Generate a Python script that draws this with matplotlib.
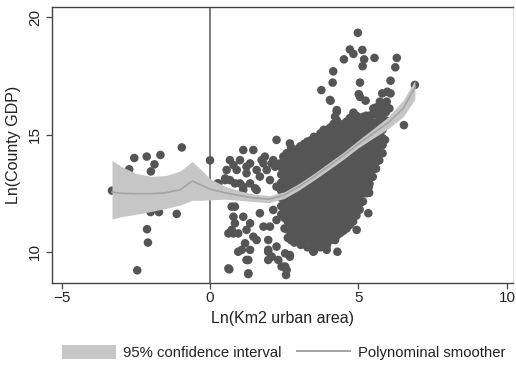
import matplotlib
matplotlib.use("Agg")
import matplotlib.pyplot as plt
from matplotlib.patches import Patch
from matplotlib.lines import Line2D

plt.rcParams['font.family'] = ['Liberation Sans', 'DejaVu Sans']

# ---------------- data ----------------
# counties with small / negative log urban area
left_x = [-0.95, -2.55, -2.13, -1.67, -1.87, -1.99, -2.72, -2.69, 0.0, -3.30, 0.26,
          -2.0, -1.72, -1.12, -2.12, -2.09, -2.45]
left_y = [14.45, 14.0, 14.06, 14.13, 13.73, 13.43, 13.52, 13.2, 13.9, 12.61, 12.92,
          11.7, 11.7, 11.62, 10.97, 10.40, 9.22]

# left part of the main cloud (x about 0.5 - 2.9)
mid_x = [1.12, 0.67, 1.01, 1.35, 0.90, 1.23, 1.57, 1.80, 1.68, 2.13, 2.36, 2.24, 2.69,
         2.58, 2.92, 2.02, 1.35, 1.01, 0.67, 1.46, 1.85, 0.51, 0.56, 1.12, 1.57, 2.24,
         1.74, 2.08, 2.19, 1.91, 2.47, 2.58, 3.03, 0.79, 1.23, 0.84, 1.12, 1.52,
         0.84, 0.79, 0.73, 0.95, 1.12, 1.23, 1.35, 1.46, 1.18, 1.07, 1.35, 1.57,
         2.02, 1.96, 1.96, 2.08, 2.24, 2.30, 2.41, 2.58, 2.53, 2.69, 0.62, 1.23,
         1.29, 2.69, 2.81, 2.58, 1.68, 2.13, 2.24, 1.80]
mid_y = [14.34, 13.91, 13.91, 13.77, 13.49, 13.35, 13.49, 13.77, 13.21, 13.91, 13.77,
         14.77, 14.62, 14.20, 14.34, 13.06, 12.92, 12.92, 13.06, 14.34, 14.06, 13.13,
         13.49, 12.64, 12.64, 12.78, 13.91, 13.77, 13.63, 13.49, 14.06, 13.77, 14.48,
         13.70, 13.63, 12.92, 12.78, 12.71,
         11.93, 11.50, 10.94, 10.79, 11.50, 10.94, 11.22, 10.65, 10.37, 10.09, 10.09,
         10.51, 11.08, 10.51, 10.09, 9.80, 10.23, 9.66, 9.38, 9.23, 9.94, 9.80, 9.30,
         9.66, 9.09, 10.94, 11.50, 11.65, 11.65, 11.79, 11.36, 11.08]

# dense core of the cloud, read column by column
core_cols_x = [2.40, 2.51, 2.62, 2.73, 2.84, 2.95, 3.06, 3.17, 3.28, 3.39, 3.50, 3.61,
               3.72, 3.83, 3.94, 4.05, 4.16, 4.27, 4.38, 4.49, 4.60, 4.71, 4.82, 4.93,
               5.04, 5.15, 5.26, 5.37, 5.48, 5.59, 5.70, 5.81, 5.92]
core_cols_y = [
    [11.6, 11.95, 12.3, 12.6, 12.95, 13.3, 13.6],
    [11.0, 11.45, 11.78, 12.1, 12.45, 12.78, 13.1, 13.45, 13.8],
    [10.6, 10.95, 11.3, 11.6, 11.9, 12.25, 12.55, 12.9, 13.2, 13.5, 13.85, 14.2],
    [10.5, 10.85, 11.15, 11.5, 11.85, 12.15, 12.5, 12.8, 13.15, 13.5, 13.8, 14.15, 14.45],
    [10.4, 10.7, 11.05, 11.4, 11.7, 12.0, 12.35, 12.7, 13.0, 13.35, 13.65, 14.0, 14.35],
    [10.45, 10.8, 11.1, 11.45, 11.75, 12.1, 12.4, 12.75, 13.05, 13.4, 13.7, 14.05, 14.35],
    [10.3, 10.6, 10.95, 11.25, 11.6, 11.9, 12.25, 12.55, 12.9, 13.2, 13.55, 13.85, 14.2,
     14.5],
    [10.4, 10.7, 11.05, 11.35, 11.7, 12.0, 12.35, 12.65, 13.0, 13.3, 13.65, 13.95, 14.3,
     14.6],
    [10.2, 10.55, 10.85, 11.2, 11.5, 11.8, 12.15, 12.45, 12.8, 13.1, 13.45, 13.75, 14.1,
     14.4, 14.7],
    [10.2, 10.55, 10.9, 11.2, 11.55, 11.85, 12.2, 12.5, 12.85, 13.15, 13.5, 13.8, 14.15,
     14.45, 14.75],
    [10.05, 10.4, 10.7, 11.05, 11.35, 11.7, 12.0, 12.35, 12.65, 13.0, 13.3, 13.65, 13.95,
     14.3, 14.6, 14.9],
    [10.25, 10.55, 10.9, 11.2, 11.55, 11.85, 12.2, 12.5, 12.85, 13.15, 13.5, 13.8, 14.15,
     14.45, 14.8],
    [10.2, 10.5, 10.85, 11.15, 11.5, 11.8, 12.15, 12.45, 12.8, 13.1, 13.45, 13.75, 14.1,
     14.4, 14.75, 15.05],
    [10.35, 10.7, 11.0, 11.3, 11.65, 11.95, 12.3, 12.6, 12.95, 13.25, 13.6, 13.9, 14.25,
     14.55, 14.9, 15.2],
    [10.3, 10.65, 10.95, 11.3, 11.6, 11.95, 12.25, 12.6, 12.9, 13.25, 13.55, 13.9, 14.2,
     14.55, 14.85, 15.2],
    [10.5, 10.8, 11.1, 11.4, 11.75, 12.05, 12.4, 12.7, 13.05, 13.35, 13.7, 14.0, 14.35,
     14.65, 15.0, 15.3],
    [10.55, 10.9, 11.2, 11.55, 11.85, 12.2, 12.5, 12.85, 13.15, 13.5, 13.8, 14.15, 14.45,
     14.8, 15.1, 15.45],
    [10.7, 11.05, 11.35, 11.7, 12.0, 12.35, 12.65, 13.0, 13.3, 13.65, 13.95, 14.3, 14.6,
     14.95, 15.25, 15.6],
    [10.8, 11.1, 11.45, 11.75, 12.1, 12.4, 12.75, 13.05, 13.4, 13.7, 14.05, 14.35, 14.7,
     15.0, 15.35],
    [10.9, 11.25, 11.55, 11.9, 12.2, 12.55, 12.85, 13.2, 13.5, 13.85, 14.15, 14.5, 14.8,
     15.15, 15.45],
    [11.0, 11.35, 11.65, 12.0, 12.3, 12.65, 12.95, 13.3, 13.6, 13.95, 14.25, 14.6, 14.9,
     15.25, 15.55],
    [11.15, 11.5, 11.8, 12.15, 12.45, 12.8, 13.1, 13.45, 13.75, 14.1, 14.4, 14.75, 15.05,
     15.4, 15.7],
    [11.3, 11.6, 11.95, 12.25, 12.6, 12.9, 13.25, 13.55, 13.9, 14.2, 14.55, 14.85, 15.2,
     15.5, 15.8],
    [11.55, 11.9, 12.2, 12.55, 12.85, 13.2, 13.5, 13.85, 14.15, 14.5, 14.8, 15.15, 15.45,
     15.8],
    [11.8, 12.15, 12.45, 12.8, 13.1, 13.45, 13.75, 14.1, 14.4, 14.75, 15.05, 15.4, 15.7],
    [12.15, 12.5, 12.8, 13.15, 13.45, 13.8, 14.1, 14.45, 14.75, 15.1, 15.4, 15.75],
    [12.5, 12.85, 13.15, 13.5, 13.8, 14.15, 14.45, 14.8, 15.1, 15.45, 15.8],
    [12.9, 13.2, 13.55, 13.85, 14.2, 14.5, 14.85, 15.15, 15.5, 15.8],
    [13.2, 13.5, 13.85, 14.15, 14.5, 14.8, 15.15, 15.5, 15.85],
    [13.55, 13.85, 14.2, 14.5, 14.85, 15.15, 15.5, 15.85, 16.15],
    [13.9, 14.25, 14.55, 14.9, 15.2, 15.5, 15.85, 16.2],
    [14.2, 14.55, 14.85, 15.2, 15.55, 15.9, 16.25],
    [15.6, 15.95, 16.25],
]

# scattered counties above the cloud
upper_x = [4.98, 4.71, 4.83, 5.13, 4.51, 5.19, 5.54, 6.29, 6.24, 5.14, 4.15, 4.13, 5.05,
           3.75, 6.08, 5.97, 5.01, 4.06, 5.24, 5.80, 6.08, 5.95, 5.72, 6.04, 5.50, 4.27,
           4.83, 4.21, 6.90, 6.53, 5.78, 5.72, 3.93, 5.89, 5.50, 5.05, 4.04, 4.27]
upper_y = [19.33, 18.62, 18.43, 18.60, 18.20, 18.20, 18.26, 18.26, 17.86, 17.91, 17.69,
           17.21, 17.21, 16.89, 17.29, 16.82, 16.72, 16.44, 16.44, 16.75, 16.75, 16.40,
           16.40, 16.11, 16.11, 16.04, 15.93, 15.76, 17.11, 15.40, 15.90, 15.62, 15.19,
           14.77, 13.77, 16.6, 16.47, 15.97]

# scattered counties below the cloud
lower_x = [5.35, 5.36, 5.05, 5.33, 4.94, 4.29, 3.93, 4.21, 3.48, 2.69, 2.53, 2.56, 1.96,
           1.96, 1.29, 1.29, 0.65, 0.95, 0.62, 0.79, 0.84, 0.73, 0.51, 0.28]
lower_y = [12.78, 12.52, 12.07, 11.65, 10.94, 10.01, 10.09, 10.51, 10.01, 9.87, 9.38,
           9.02, 10.01, 9.66, 9.66, 9.06, 9.26, 10.01, 10.79, 10.79, 11.22, 11.93, 13.06,
           12.92]

# polynomial smoother and its 95% confidence interval
smooth_x = [-3.3, -3.0, -2.5, -2.0, -1.5, -1.0, -0.6, -0.3, 0.0, 0.5, 1.0, 1.5, 2.0,
            2.5, 3.0, 3.5, 4.0, 4.5, 5.0, 5.5, 6.0, 6.5, 6.9]
smooth_y = [12.55, 12.5, 12.48, 12.48, 12.52, 12.65, 13.02, 12.85, 12.68, 12.52, 12.4,
            12.3, 12.25, 12.42, 12.78, 13.2, 13.65, 14.1, 14.6, 15.05, 15.5, 16.1, 17.0]
ci_hi = [13.9, 13.65, 13.35, 13.22, 13.25, 13.45, 13.85, 13.5, 13.12, 12.8, 12.6, 12.46,
         12.4, 12.56, 12.92, 13.34, 13.8, 14.25, 14.76, 15.25, 15.75, 16.45, 17.3]
ci_lo = [11.4, 11.5, 11.6, 11.72, 11.85, 12.0, 12.2, 12.2, 12.22, 12.25, 12.2, 12.14,
         12.1, 12.28, 12.64, 13.06, 13.5, 13.95, 14.44, 14.85, 15.25, 15.75, 16.5]

x_ticks = [-5, 0, 5, 10]
x_tick_labels = ['\u22125', '0', '5', '10']
y_ticks = [10, 15, 20]

# ---------------- figure ----------------
POINT = '#555555'
BAND = '#c6c6c6'
LINE = '#a4a4a4'
AXC = '#444444'
TXT = '#222222'

fig = plt.figure(figsize=(5.16, 3.66), dpi=100)
ax = fig.add_axes([0.1008, 0.2268, 0.8932, 0.7542])

core_x, core_y = [], []
for cx, ys in zip(core_cols_x, core_cols_y):
    core_x += [cx] * len(ys)
    core_y += ys

for xs, ys in [(left_x, left_y), (mid_x, mid_y), (core_x, core_y),
               (upper_x, upper_y), (lower_x, lower_y)]:
    ax.scatter(xs, ys, s=38, color=POINT, edgecolors='none', zorder=2)

ax.axvline(0, color='#666666', lw=1.2, zorder=1)

ax.fill_between(smooth_x, ci_lo, ci_hi, color=BAND, lw=0, zorder=3)
ax.plot(smooth_x, smooth_y, color=LINE, lw=1.2, zorder=4)

ax.set_xlim(-5.32, 10.2)
ax.set_ylim(8.68, 20.43)
ax.set_xticks(x_ticks)
ax.set_yticks(y_ticks)
ax.set_xticklabels(x_tick_labels)
ax.tick_params(axis='both', colors=AXC, labelcolor=TXT, labelsize=11,
               length=4, width=0.9, direction='out')
ax.tick_params(axis='y', pad=3)
ax.tick_params(axis='x', pad=2)
for lab in ax.get_yticklabels():
    lab.set_rotation(90)
    lab.set_va('center')

for side in ['left', 'bottom', 'top']:
    ax.spines[side].set_color(AXC)
    ax.spines[side].set_linewidth(1.0)
ax.spines['right'].set_color('#dddddd')
ax.spines['right'].set_linewidth(0.8)

ax.set_xlabel('Ln(Km2 urban area)', fontsize=11.5, color=TXT, labelpad=4)
ax.set_ylabel('Ln(County GDP)', fontsize=11.5, color=TXT, labelpad=5)

handles = [Patch(facecolor=BAND, edgecolor='none', label='95% confidence interval'),
           Line2D([0], [0], color=LINE, lw=1.4, label='Polynominal smoother')]
fig.legend(handles=handles, loc='center', bbox_to_anchor=(0.55, 0.036), ncol=2,
           frameon=False, fontsize=10.7, handlelength=3.6, handleheight=1.0,
           handletextpad=0.5, columnspacing=1.0, labelcolor=TXT)

fig.savefig('out.png', dpi=100)
